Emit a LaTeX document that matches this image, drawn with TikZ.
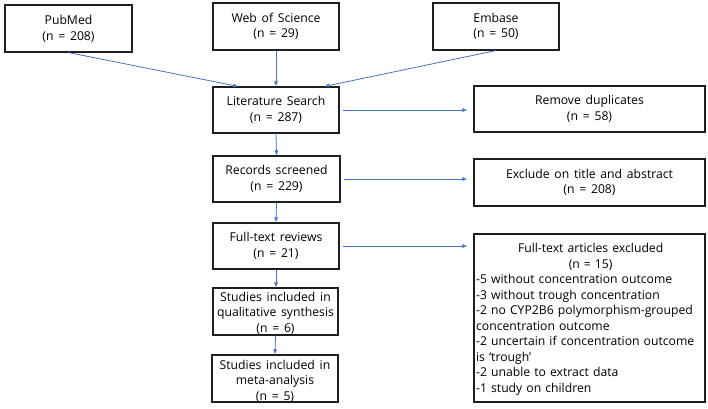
\documentclass[tikz,border=0pt]{standalone}
\usepackage{fontspec}
\setmainfont[WordSpace=1.5]{Open Sans}
\usetikzlibrary{arrows.meta}
\definecolor{arr}{RGB}{68,114,196}
\definecolor{edge}{RGB}{30,30,30}
\tikzset{
  box/.style={draw=edge, line width=1.1pt, rectangle, inner sep=0pt},
  txt/.style={align=center, font=\fontsize{12.2}{15.5}\selectfont, inner sep=0pt},
  conn/.style={draw=arr, line width=0.8pt, -{Latex[length=5pt,width=4pt]}},
}
\begin{document}
\begin{tikzpicture}[x=1pt,y=-1pt]
\useasboundingbox (0,0) rectangle (708,408);
% boxes
\node[box, minimum width=127, minimum height=47] (pub) at (68.5,28.5) {};
\node[box, minimum width=126, minimum height=47] (wos) at (276,26.5) {};
\node[box, minimum width=126, minimum height=47] (emb) at (496,26.5) {};
\node[box, minimum width=126, minimum height=46] (lit) at (276,110) {};
\node[box, minimum width=231, minimum height=46] (rem) at (589.5,109) {};
\node[box, minimum width=127, minimum height=46] (rec) at (276.5,179) {};
\node[box, minimum width=231, minimum height=47] (exc) at (589.5,182.5) {};
\node[box, minimum width=126, minimum height=46] (ful) at (276,246) {};
\node[box, minimum width=231, minimum height=168] (fex) at (589.5,318) {};
\node[box, minimum width=125, minimum height=47] (qual) at (275.5,311.5) {};
\node[box, minimum width=126, minimum height=47] (meta) at (275,378.5) {};
% texts
\node[txt] (pubt) at ([yshift=-0.5]pub.center) {PubMed\\(n = 208)};
\node[txt] (wost) at (wos) {Web of Science\\(n = 29)};
\node[txt] (embt) at (emb) {Embase\\(n = 50)};
\node[txt] (litt) at (lit) {Literature Search\\(n = 287)};
\node[txt] (remt) at (rem) {Remove duplicates\\(n = 58)};
\node[txt] (rect) at (rec) {Records screened\\(n = 229)};
\node[txt] (exct) at (exc) {Exclude on title and abstract\\(n = 208)};
\node[txt] (fult) at (ful) {Full-text reviews\\(n = 21)};
\node[txt] (qualt) at ([yshift=-1.5]qual.center) {Studies included in\\qualitative synthesis\\(n = 6)};
\node[txt] (metat) at ([yshift=-2.5]meta.center) {Studies included in\\meta-analysis\\(n = 5)};
\node[txt, align=left, text width=240, anchor=west] (fext) at ([xshift=2.5,yshift=-1.5]fex.west)
  {\makebox[229pt]{Full-text articles excluded}\\
   \makebox[229pt]{(n = 15)}\\
   -5 without concentration outcome\\
   -3 without trough concentration\\
   -2 no CYP2B6 polymorphism-grouped\\
   concentration outcome\\
   -2 uncertain if concentration outcome\\
   is ‘trough’\\
   -2 unable to extract data\\
   -1 study on children};
% connectors
\draw[conn] (pub.south) -- (lit.148.8);
\draw[conn] (wos.south) -- (lit.north);
\draw[conn] (emb.south) -- (lit.26.6);
\draw[conn] (lit.south) -- (rec.north);
\draw[conn] (rec.south) -- (ful.north);
\draw[conn] (ful.south) -- (ful.south |- qual.north);
\draw[conn] (qual.south) -- (meta.north);
\draw[conn, shorten <=3pt, shorten >=6pt] (lit.east) -- (lit.east -| rem.west);
\draw[conn, shorten <=3pt, shorten >=6pt] (rec.east) -- (rec.east -| exc.west);
\draw[conn, shorten <=3pt, shorten >=6pt] (ful.east) -- (ful.east -| fex.west);
\end{tikzpicture}
\end{document}
